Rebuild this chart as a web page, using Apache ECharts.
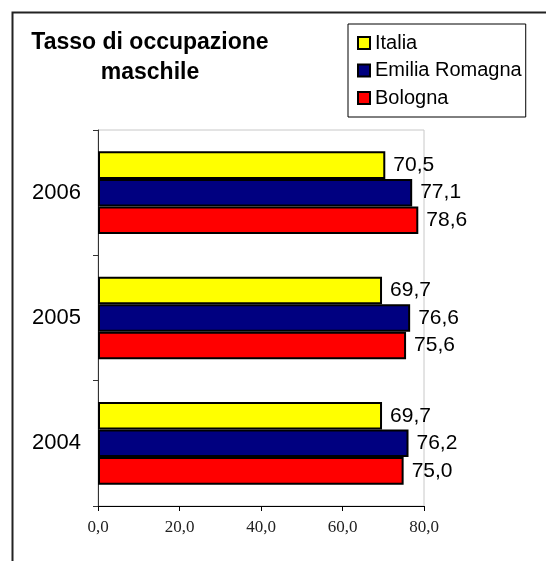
<!DOCTYPE html>
<html>
<head>
<meta charset="utf-8">
<script src="https://cdn.jsdelivr.net/npm/echarts@6/dist/echarts.min.js"></script>
<style>
html,body{margin:0;padding:0;background:#fff;}
#chart{width:546px;height:561px;}
</style>
</head>
<body>
<div id="chart"></div>
<script>
const categories = ['2004', '2005', '2006'];
const italia = [69.7, 69.7, 70.5];
const emiliaRomagna = [76.2, 76.6, 77.1];
const bologna = [75.0, 75.6, 78.6];
const xTicks = [0, 20, 40, 60, 80];
const titleText = 'Tasso di occupazione\nmaschile';

const fmt = v => Number(v).toFixed(1).replace('.', ',');
const labelStyle = {
  show: true, position: 'right', distance: 8,
  fontFamily: 'Liberation Sans, Arial, sans-serif', fontSize: 21, color: '#000',
  formatter: p => fmt(p.value)
};
function mk(name, data, color) {
  return {
    name: name, type: 'bar', data: data,
    barGap: '0%', barCategoryGap: '34%',
    itemStyle: { color: color, borderColor: '#000', borderWidth: 2 },
    label: labelStyle
  };
}
const chart = echarts.init(document.getElementById('chart'), null, { renderer: 'canvas' });
chart.setOption({
  animation: false,
  backgroundColor: '#fff',
  title: {
    text: titleText, left: 145, top: 23, textAlign: 'center',
    textStyle: { fontFamily: 'Liberation Sans, Arial, sans-serif', fontSize: 23, fontWeight: 'bold', color: '#000', lineHeight: 30 }
  },
  legend: {
    data: ['Italia', 'Emilia Romagna', 'Bologna'],
    orient: 'vertical', left: 348, top: 24,
    padding: [9, 4, 9, 9], itemGap: 7.5, itemWidth: 12, itemHeight: 12, itemTextGap: 10,
    borderColor: '#000', borderWidth: 1, icon: 'rect',
    textStyle: { fontFamily: 'Liberation Sans, Arial, sans-serif', fontSize: 20, color: '#000' }
  },
  grid: { left: 98, right: 122, top: 130, bottom: 55, show: true, borderColor: '#c8c8c8', borderWidth: 1, backgroundColor: 'transparent' },
  xAxis: {
    type: 'value', min: xTicks[0], max: xTicks[xTicks.length - 1], interval: 20,
    splitLine: { show: false },
    axisLine: { show: true, lineStyle: { color: '#000', width: 1 } },
    axisTick: { show: true, length: 5, lineStyle: { color: '#000' } },
    axisLabel: { formatter: v => fmt(v), fontFamily: 'Liberation Serif, Times New Roman, serif', fontSize: 17, color: '#222', margin: 13 }
  },
  yAxis: {
    type: 'category', data: categories,
    axisLine: { show: true, lineStyle: { color: '#333', width: 1 } },
    axisTick: { show: true, length: 5, lineStyle: { color: '#333' } },
    axisLabel: { fontFamily: 'Liberation Sans, Arial, sans-serif', fontSize: 22, color: '#000', margin: 17 }
  },
  graphic: [{
    type: 'rect', left: 10, top: 10, silent: true, z: -1,
    shape: { width: 600, height: 600 },
    style: { fill: 'none', stroke: '#222', lineWidth: 2 }
  }],
  series: [
    mk('Italia', italia, '#FFFF00'),
    mk('Emilia Romagna', emiliaRomagna, '#000080'),
    mk('Bologna', bologna, '#FF0000')
  ]
});
</script>
</body>
</html>
